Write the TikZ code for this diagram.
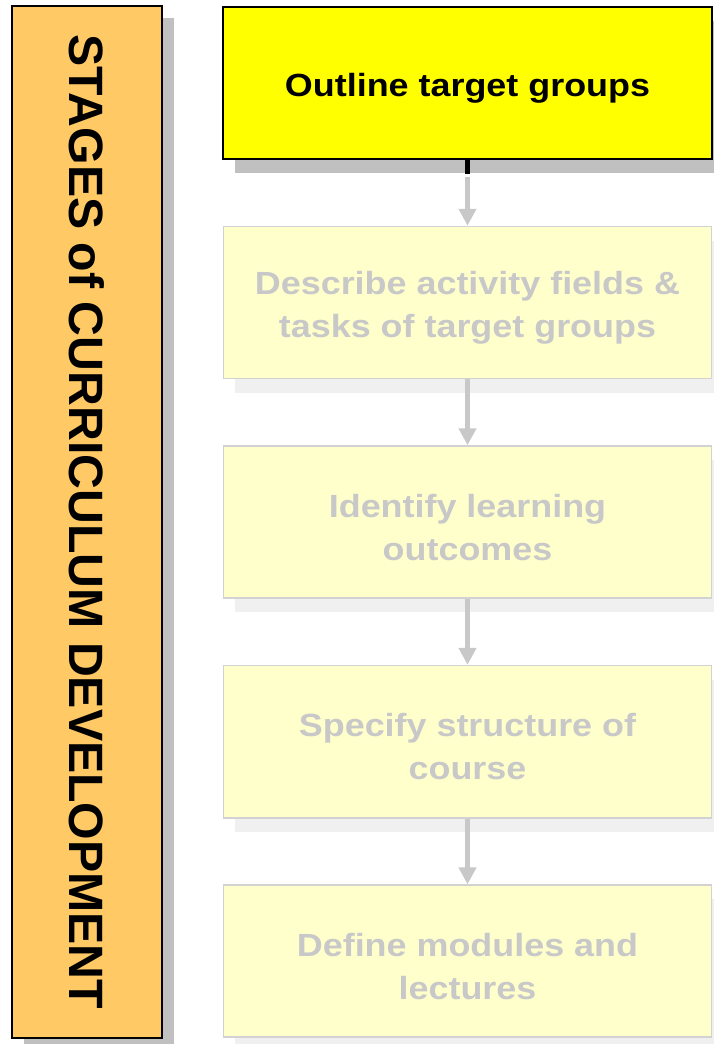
\documentclass[tikz,border=0pt]{standalone}
\usepackage{fontspec}
\setmainfont{Liberation Sans}
\newfontfamily\boxfont{Liberation Sans}[FakeStretch=1.12]
\usetikzlibrary{positioning,shadows,arrows.meta}

\definecolor{stageorange}{HTML}{FFC965}
\definecolor{curyellow}{HTML}{FFFF00}
\definecolor{fadeyellow}{HTML}{FFFFCC}
\definecolor{fadeline}{HTML}{D2D2D2}
\definecolor{fadetext}{HTML}{C8C8C8}
\definecolor{darkshadow}{HTML}{C0C0C0}
\definecolor{lightshadow}{HTML}{F0F0F0}
\newcommand\liftline{\rule{0pt}{23.6pt}}

\begin{document}
\begin{tikzpicture}[x=0.025cm,y=0.025cm,node distance=5.4875cm,on grid,
    box/.style={rectangle,minimum width=12.2cm,minimum height=3.8cm,align=center,
      font=\boxfont\bfseries\fontsize{22.8}{30.6}\selectfont},
    current/.style={box,draw=black,line width=1.5pt,fill=curyellow,
      drop shadow={shadow xshift=0.3cm,shadow yshift=-0.35cm,fill=darkshadow,opacity=1}},
    faded/.style={box,draw=fadeline,line width=1.2pt,fill=fadeyellow,text=fadetext,
      drop shadow={shadow xshift=0.3cm,shadow yshift=-0.35cm,fill=lightshadow,opacity=1}},
    stagebar/.style={rectangle,draw=black,line width=1.5pt,fill=stageorange,
      minimum width=3.75cm,minimum height=25.8cm,
      font=\bfseries\fontsize{34.3}{38}\selectfont,
      drop shadow={shadow xshift=0.3cm,shadow yshift=-0.3cm,fill=darkshadow,opacity=1}},
    flow/.style={-{Triangle[length=12pt,width=12pt]},draw=fadetext,line width=3pt}]
    \useasboundingbox (0,0) rectangle (713,1044);
    \node[stagebar] (stages) at (87,522) {\rotatebox{-90}{STAGES of CURRICULUM DEVELOPMENT}};
    \node[current] (outline) at (467.5,961) {\liftline Outline target groups};
    \node[faded] (describe) [below=of outline]  {\liftline Describe activity fields \&\\tasks of target groups};
    \node[faded] (identify) [below=of describe] {\liftline Identify learning\\outcomes};
    \node[faded] (specify)  [below=of identify] {\liftline Specify structure of\\course};
    \node[faded] (define)   [below=of specify]  {\liftline Define modules and\\lectures};
    \coordinate[below=0.35cm of outline.south] (stub);
    % active part of first arrow
    \draw[line width=3pt,black] (outline.south) -- (stub);
    \draw[flow,shorten <=2pt] (stub) -- (describe.north);
    \draw[flow] (describe.south) -- (identify.north);
    \draw[flow] (identify.south) -- (specify.north);
    \draw[flow] (specify.south) -- (define.north);
\end{tikzpicture}
\end{document}
